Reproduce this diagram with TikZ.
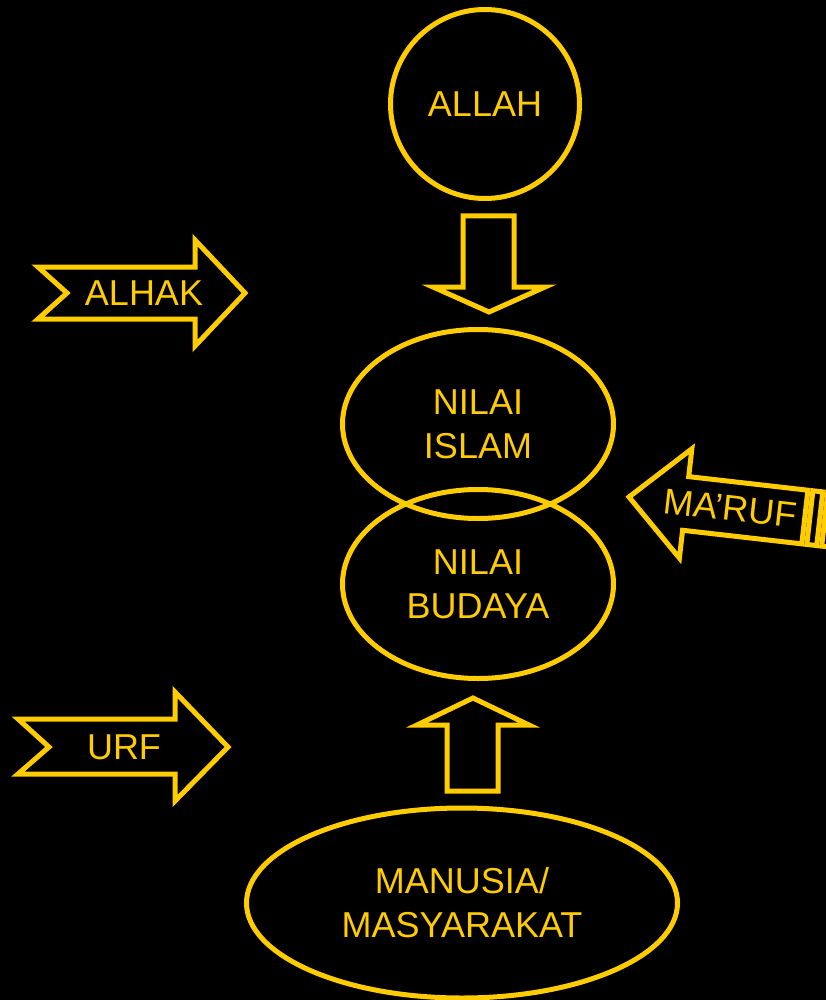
\documentclass[tikz,border=0pt]{standalone}
\usepackage{fontspec}
\setmainfont{Liberation Sans}
\usetikzlibrary{shapes.geometric}
\definecolor{kuning}{HTML}{FFCC00}
\begin{document}
\begin{tikzpicture}[x=1pt, y=-1pt, line width=5pt, line join=miter,
  font=\fontsize{36}{44}\selectfont,
  every node/.style={text=kuning, align=center},
  elips/.style={draw=kuning, ellipse, inner sep=0pt, minimum width=271pt, minimum height=189pt},
  blok/.style={draw=kuning}]
 \fill[black] (0,0) rectangle (826,1000);
 \clip (0,0) rectangle (826,1000);
 % lingkaran dan elips
 \node[draw=kuning, circle, inner sep=0pt, minimum size=189pt] (allah) at (485,104) {ALLAH};
 \node[elips] (islam) at (478,424) {NILAI\\ISLAM};
 \node[elips] (budaya) at (478,584) {NILAI\\BUDAYA};
 \node[elips, minimum width=431pt, minimum height=190pt] (manusia) at (462,903) {MANUSIA/\\MASYARAKAT};
 % panah blok vertikal
 \draw[blok] (463,216)--(514,216)--(514,287)--(545,287)--(489,312)--(433,287)--(463,287)--cycle;
 \draw[blok] (447,791)--(498,791)--(498,725)--(529,725)--(473,698)--(417,725)--(447,725)--cycle;
 % panah bertakik kiri
 \draw[blok] (38,267)--(195,267)--(195,240)--(245,293)--(195,346)--(195,319)--(38,319)--(67,293)--cycle;
 \node (alhak) at (144,293) {ALHAK};
 \draw[blok] (18,719)--(175,719)--(175,692)--(228,747)--(175,801)--(175,774)--(18,774)--(49,747)--cycle;
 \node (urf) at (124,747) {URF};
 % panah bergaris kanan
 \begin{scope}[shift={(629,497)}, rotate=-6.5]
  \draw[blok] (0,0)--(57,-55)--(57,-27)--(177,-27)--(177,27)--(57,27)--(57,55)--cycle;
  \draw[blok] (182,-27) rectangle (192,27);
  \draw[blok] (197,-27) rectangle (215,27);
  \node[rotate=-6.5] (maruf) at (102,0) {MA’RUF};
 \end{scope}
\end{tikzpicture}
\end{document}
